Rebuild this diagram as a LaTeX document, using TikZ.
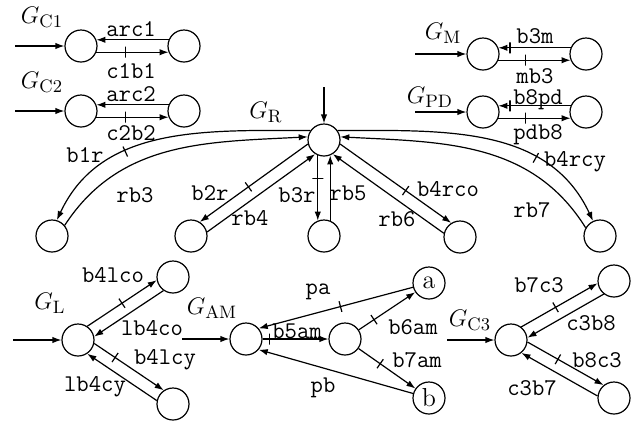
\documentclass[tikz,border=0pt]{standalone}
\usetikzlibrary{arrows.meta, positioning}

\begin{document}
\begin{tikzpicture}[->, >={Latex[length=4.5pt,width=3.2pt]}, semithick, x=0.5pt, y=-0.5pt,
  node distance=51.5pt,
  state/.style={circle, draw, minimum size=16pt, inner sep=0pt, font=\fontsize{13}{15}\selectfont},
  lbl/.style={font=\fontsize{12}{14}\selectfont\ttfamily, inner sep=0pt},
  gname/.style={font=\fontsize{13}{15}\selectfont, inner sep=0pt},
  tickmark/.style={draw, sloped, rectangle, inner sep=0pt, minimum width=0pt, minimum height=5.5pt}]
  \useasboundingbox (0,0) rectangle (632,420);

  % G_C1
  \node[state] (C1a) at (81,46) {};
  \node[state, right of=C1a] (C1b) {};
  \coordinate (inC1) at (15,46);
  \draw (inC1) -- (C1a);
  \draw (C1b.158) -- (C1a.22);
  \draw (C1a.338) -- node[tickmark, pos=0.4] {} (C1b.202);
  \node[gname] at (42,17) {$G_{\mathrm{C1}}$};
  \node[lbl] at (131,29) {arc1};
  \node[lbl] at (131,71) {c1b1};

  % G_C2
  \node[state] (C2a) at (81,111) {};
  \node[state, right of=C2a] (C2b) {};
  \coordinate (inC2) at (15,111);
  \draw (inC2) -- (C2a);
  \draw (C2b.158) -- (C2a.22);
  \draw (C2a.338) -- node[tickmark, pos=0.4] {} (C2b.202);
  \node[gname] at (42,82) {$G_{\mathrm{C2}}$};
  \node[lbl] at (131,94) {arc2};
  \node[lbl] at (131,133) {c2b2};

  % G_M
  \node[state] (Ma) at (483,54) {};
  \node[state, right of=Ma] (Mb) {};
  \coordinate (inM) at (415,54);
  \draw (inM) -- (Ma);
  \draw (Mb.158) -- node[tickmark, pos=0.84] {} (Ma.22);
  \draw (Ma.338) -- node[tickmark, pos=0.37] {} (Mb.202);
  \node[gname] at (443,33) {$G_{\mathrm{M}}$};
  \node[lbl] at (535,36) {b3m};
  \node[lbl] at (535,76) {mb3};

  % G_PD
  \node[state] (PDa) at (483,112) {};
  \node[state, right of=PDa] (PDb) {};
  \coordinate (inPD) at (415,112);
  \draw (inPD) -- (PDa);
  \draw (PDb.158) -- node[tickmark, pos=0.84] {} (PDa.22);
  \draw (PDa.338) -- node[tickmark, pos=0.37] {} (PDb.202);
  \node[gname] at (430,97) {$G_{\mathrm{PD}}$};
  \node[lbl] at (538,100) {b8pd};
  \node[lbl] at (538,135) {pdb8};

  % G_R
  \node[state] (R) at (324,140) {};
  \coordinate (inR) at (324,87);
  \draw (inR) -- (R);
  \node[gname] at (266,112) {$G_{\mathrm{R}}$};
  \node[state] (RL) at (52,236) {};
  \node[state] (R2) at (191,236) {};
  \node[state] (R3) at (324,236) {};
  \node[state] (R4) at (460,237) {};
  \node[state] (R5) at (600,236) {};
  \draw (R.145) to[out=180, in=65] node[tickmark, pos=0.64] {} (RL.73);
  \draw (RL.40) to[out=57, in=183] (R.169);
  \draw (R.194) -- node[tickmark, pos=0.55] {} (R2.58);
  \draw (R2.14) -- (R.238);
  \draw (R.248) -- node[tickmark, pos=0.36] {} (R3.112);
  \draw (R3.68) -- (R.292);
  \draw (R.346) -- node[tickmark, pos=0.59] {} (R4.122);
  \draw (R4.167) -- (R.302);
  \draw (R.35) to[out=0, in=115] node[tickmark, pos=0.69] {} (R5.115);
  \draw (R5.150) to[out=122, in=-3] (R.11);
  \node[lbl] at (85,155) {b1r};
  \node[lbl] at (135,195) {rb3};
  \node[lbl] at (210,193) {b2r};
  \node[lbl] at (250,218) {rb4};
  \node[lbl] at (297,195) {b3r};
  \node[lbl] at (348,193) {rb5};
  \node[lbl] at (448,189) {b4rco};
  \node[lbl] at (397,219) {rb6};
  \node[lbl] at (575,162) {b4rcy};
  \node[lbl] at (532,210) {rb7};

  % G_L
  \node[state] (L) at (78,340) {};
  \node[state] (Lu) at (173,277) {};
  \node[state] (Ld) at (173,404) {};
  \coordinate (inL) at (13,340);
  \draw (inL) -- (L);
  \draw (L.56) -- node[tickmark, pos=0.5] {} (Lu.191);
  \draw (Lu.235) -- (L.12);
  \draw (L.348) -- node[tickmark, pos=0.3] {} (Ld.124);
  \draw (Ld.168) -- (L.304);
  \node[gname] at (50,303) {$G_{\mathrm{L}}$};
  \node[lbl] at (113,275) {b4lco};
  \node[lbl] at (152,328) {lb4co};
  \node[lbl] at (165,360) {b4lcy};
  \node[lbl] at (95,387) {lb4cy};

  % G_AM
  \node[state] (A1) at (246,339) {};
  \node[state] (A2) at (345,339) {};
  \node[state] (Aa) at (429,283) {a};
  \node[state] (Ab) at (429,398) {b};
  \coordinate (inAM) at (182,339);
  \draw (inAM) -- (A1);
  \draw (A1) -- node[tickmark, pos=0.1] {} (A2);
  \draw (Aa) -- node[tickmark, pos=0.47] {} (A1.40);
  \draw (A2) -- node[tickmark, pos=0.27] {} (Aa);
  \draw (A2) -- node[tickmark, pos=0.38] {} (Ab);
  \draw (Ab) -- (A1.320);
  \node[gname] at (212,308) {$G_{\mathrm{AM}}$};
  \node[lbl] at (318,292) {pa};
  \node[lbl] at (297,331) {b5am};
  \node[lbl] at (413,327) {b6am};
  \node[lbl] at (417,360) {b7am};
  \node[lbl] at (323,388) {pb};

  % G_C3
  \node[state] (C3) at (511,340) {};
  \node[state] (C3u) at (614,281) {};
  \node[state] (C3d) at (614,398) {};
  \coordinate (inC3) at (447,340);
  \draw (inC3) -- (C3);
  \draw (C3.52) -- node[tickmark, pos=0.45] {} (C3u.188);
  \draw (C3u.232) -- (C3.8);
  \draw (C3.353) -- node[tickmark, pos=0.4] {} (C3d.129);
  \draw (C3d.173) -- (C3.309);
  \node[gname] at (470,320) {$G_{\mathrm{C3}}$};
  \node[lbl] at (539,285) {b7c3};
  \node[lbl] at (591,323) {c3b8};
  \node[lbl] at (597,360) {b8c3};
  \node[lbl] at (532,388) {c3b7};
\end{tikzpicture}
\end{document}
